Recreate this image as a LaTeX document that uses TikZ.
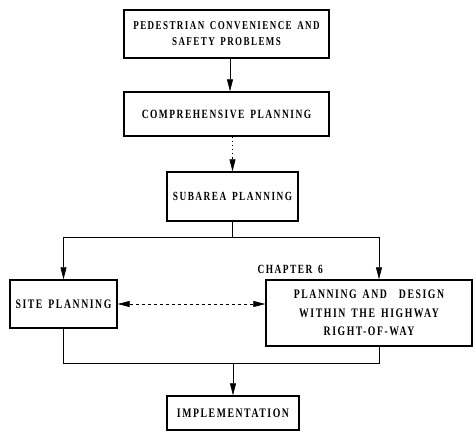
\documentclass[tikz,border=0pt]{standalone}
\usepackage{fontspec}
\newfontfamily\typ[FakeStretch=0.75,LetterSpace=12,WordSpace=1.5]{Liberation Serif}
\usetikzlibrary{arrows.meta}
\begin{document}
\begin{tikzpicture}[x=1pt,y=-1pt,
  box/.style={draw, line width=1.4pt, inner sep=0pt, align=center, font=\typ\bfseries\fontsize{13}{18}\selectfont},
  conn/.style={line width=0.7pt},
  tip/.style={-{Triangle[length=12pt,width=6pt]}},
  faint/.style={line width=0.4pt, dash pattern=on 1pt off 3pt}]
\useasboundingbox (0,0) rectangle (476,432);
\node[box, minimum width=205pt, minimum height=48pt, font=\typ\bfseries\fontsize{12}{16}\selectfont] (b1) at (226.5,34) {PEDESTRIAN CONVENIENCE AND\\SAFETY PROBLEMS};
\node[box, minimum width=205pt, minimum height=44pt, font=\typ\bfseries\fontsize{12.6}{16}\selectfont] (b2) at (226.5,114) {COMPREHENSIVE PLANNING};
\node[box, minimum width=131pt, minimum height=49pt, font=\typ\bfseries\fontsize{12.4}{16}\selectfont] (b3) at (232.5,196.5) {SUBAREA PLANNING};
\node[box, minimum width=206pt, minimum height=66pt, font=\typ\bfseries\fontsize{13}{18.5}\selectfont] (b4) at (369,313) {PLANNING AND\ \ DESIGN\\WITHIN THE HIGHWAY\\RIGHT-OF-WAY};
\node[box, minimum width=107pt, minimum height=48pt] (b5) at (63.5,304) {SITE PLANNING};
\node[box, minimum width=132pt, minimum height=34pt] (b6) at (233,413) {IMPLEMENTATION};
\node[anchor=south west, inner sep=0pt, font=\typ\bfseries\fontsize{12.5}{14}\selectfont] (ch) at ([xshift=-8pt,yshift=5pt]b4.north west) {CHAPTER 6};
% connectors
\coordinate (s) at (232.5,237);
\coordinate (m) at (233,363);
\coordinate (r) at (379,0);
\coordinate (a1) at (230,0);
\draw[conn,tip] (a1 |- b1.south) -- (a1 |- b2.north);
\draw[faint] (b2.south -| b3.north) -- ++(0,22);
\draw[conn,tip] ([yshift=13pt]b3.north) -- (b3.north);
\draw[line width=0.5pt] (b3.south) -- (s);
\draw[conn,tip] (s) -| (b5.north);
\draw[conn,tip] (s) -| (r |- b4.north);
\draw[conn] (b5.south) |- (m);
\draw[conn] (r |- b4.south) |- (m);
\draw[conn,tip] (m) -- (b6.north);
\draw[conn,dashed,{Triangle[length=12pt,width=6pt]}-{Triangle[length=12pt,width=6pt]}] (b5.east) -- (b4.west |- b5.east);
\end{tikzpicture}
\end{document}
